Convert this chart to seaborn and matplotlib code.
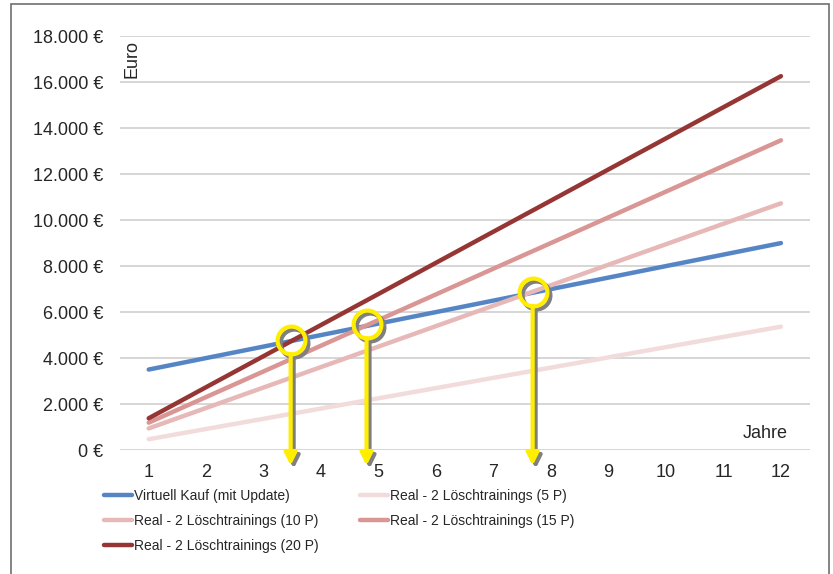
import matplotlib
matplotlib.use("Agg")
import matplotlib.pyplot as plt
import matplotlib.transforms as mtransforms
from matplotlib import font_manager
from matplotlib.patches import Rectangle
import seaborn as sns
import pandas as pd

# data
jahre = [1, 2, 3, 4, 5, 6, 7, 8, 9, 10, 11, 12]
virtuell = [3500, 4000, 4500, 5000, 5500, 6000, 6500, 7000, 7500, 8000, 8500, 9000]
real_5p = [470, 915, 1360, 1805, 2250, 2695, 3140, 3585, 4030, 4475, 4920, 5365]
real_10p = [940, 1830, 2720, 3610, 4500, 5390, 6280, 7170, 8060, 8950, 9840, 10730]
real_15p = [1190, 2305, 3420, 4540, 5655, 6770, 7890, 9005, 10120, 11240, 12355, 13470]
real_20p = [1380, 2735, 4085, 5440, 6790, 8145, 9500, 10850, 12205, 13555, 14910, 16260]

serien = [
    "Virtuell Kauf (mit Update)",
    "Real - 2 Löschtrainings (5 P)",
    "Real - 2 Löschtrainings (10 P)",
    "Real - 2 Löschtrainings (15 P)",
    "Real - 2 Löschtrainings (20 P)",
]
farben = ["#5585c5", "#f2dcdb", "#e6b9b8", "#d99694", "#963634"]

y_ticks = [0, 2000, 4000, 6000, 8000, 10000, 12000, 14000, 16000, 18000]
y_labels = ["0 €", "2.000 €", "4.000 €", "6.000 €", "8.000 €", "10.000 €",
            "12.000 €", "14.000 €", "16.000 €", "18.000 €"]

# break-even markers (year, euro)
marker_jahr = [3.47, 4.79, 7.68]
marker_euro = [4790, 5480, 6880]

df = pd.DataFrame({
    "Jahr": jahre * 5,
    "Euro": virtuell + real_5p + real_10p + real_15p + real_20p,
    "Serie": [s for s in serien for _ in jahre],
})

sns.set_style("white")
plt.rcParams["font.family"] = ["Liberation Sans", "DejaVu Sans"]

# legend in the original uses a narrow font; fall back to a smaller regular one
installed = {f.name for f in font_manager.fontManager.ttflist}
if "Liberation Sans Narrow" in installed:
    leg_font = {"family": "Liberation Sans Narrow", "size": 11}
    colspace = 4.3
else:
    leg_font = {"family": "Liberation Sans", "size": 10}
    colspace = 3.0

fig = plt.figure(figsize=(8.33, 5.74), dpi=100)
ax = fig.add_axes([0.144, 0.216, 0.828, 0.721])

for serie, farbe in zip(serien, farben):
    sns.lineplot(data=df[df["Serie"] == serie], x="Jahr", y="Euro", color=farbe,
                 linewidth=3.2, label=serie, ax=ax, solid_capstyle="round")

ax.set_xlim(0.5, 12.5)
ax.set_ylim(0, 18000)
ax.set_xticks(jahre)
ax.set_xticklabels([str(j) for j in jahre], fontsize=13)
ax.set_yticks(y_ticks)
ax.set_yticklabels(y_labels, fontsize=13)
ax.tick_params(axis="x", length=0, pad=10)
ax.tick_params(axis="y", length=0, pad=12)
ax.grid(axis="y", color="#d0d0d0", linewidth=1.2)
ax.set_axisbelow(True)
for sp in ax.spines.values():
    sp.set_visible(False)
ax.set_xlabel("")
ax.set_ylabel("")

ax.text(0.017, 0.945, "Euro", transform=ax.transAxes, rotation=90,
        fontsize=13, ha="center", va="center")
ax.text(0.935, 0.039, "Jahre", transform=ax.transAxes,
        fontsize=13, ha="center", va="center")

# yellow circles and arrows with grey shadow
shadow = mtransforms.offset_copy(ax.transData, fig=fig, x=3, y=-3, units="dots")
tip = -680
for xj, ye in zip(marker_jahr, marker_euro):
    for trans, col, z in [(shadow, "#808080", 5), (ax.transData, "#ffee00", 6)]:
        ax.annotate("", xy=(xj, tip), xycoords=trans, xytext=(xj, ye), textcoords=trans,
                    arrowprops=dict(arrowstyle="-|>", color=col, lw=3,
                                    mutation_scale=18, shrinkA=10, shrinkB=0),
                    annotation_clip=False, zorder=z)
        ax.plot([xj], [ye], marker="o", markersize=20, markerfacecolor="none",
                markeredgecolor=col, markeredgewidth=3, transform=trans,
                clip_on=False, zorder=z)

handles, labels = ax.get_legend_handles_labels()
ax.get_legend().remove()
order = [0, 2, 4, 1, 3]
fig.legend([handles[i] for i in order], [labels[i] for i in order],
           loc="upper left", bbox_to_anchor=(104 / 833, 1 - 489 / 574), ncol=2,
           frameon=False, handlelength=2.0, handletextpad=0.15,
           columnspacing=colspace, labelspacing=0.8, borderpad=0,
           borderaxespad=0, prop=leg_font)

fig.patches.append(Rectangle((11 / 833, -0.1), 818 / 833, 1.1 - 4 / 574,
                             transform=fig.transFigure, fill=False,
                             edgecolor="#707070", linewidth=1.2))

fig.savefig("out.png", dpi=100)
